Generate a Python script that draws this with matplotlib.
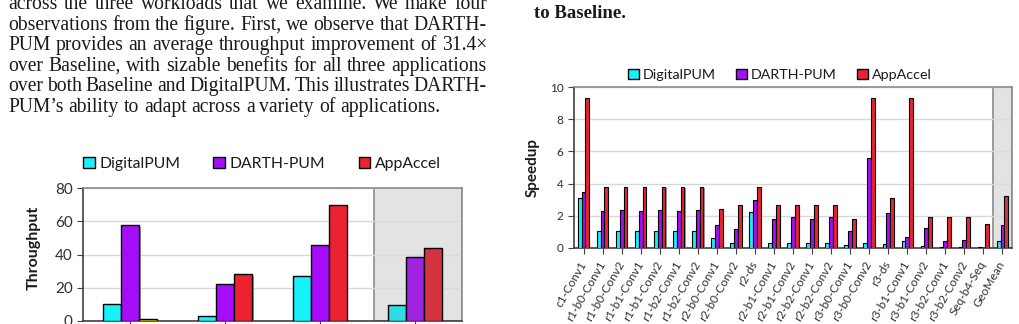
import numpy as np
import matplotlib
matplotlib.use("Agg")
import matplotlib.pyplot as plt
from matplotlib.patches import Patch
import matplotlib.patheffects as pe

W, H = 1019, 324

## ------------------
## Data
## ------------------
body_lines = [
    "across the three workloads that we examine. We make four",
    "observations from the figure. First, we observe that DARTH-",
    "PUM provides an average throughput improvement of 31.4\u00d7",
    "over Baseline, with sizable benefits for all three applications",
    "over both Baseline and DigitalPUM. This illustrates DARTH-",
    "PUM\u2019s ability to adapt across a variety of applications.",
]
caption_tail = "to Baseline."

series = ["DigitalPUM", "DARTH-PUM", "AppAccel"]

# left chart: throughput (x labels are cropped off in the reference)
apps = ["", "", "", ""]
thr_digital = [10.5, 3.0, 27.0, 9.8]
thr_darth = [57.5, 22.0, 45.5, 38.5]
thr_appaccel = [1.5, 28.0, 69.5, 44.0]

# right chart: per-layer speedup
layers = ["c1-Conv1", "r1-b0-Conv1", "r1-b0-Conv2", "r1-b1-Conv1", "r1-b1-Conv2",
          "r1-b2-Conv1", "r1-b2-Conv2", "r2-b0-Conv1", "r2-b0-Conv2", "r2-ds",
          "r2-b1-Conv1", "r2-b1-Conv2", "r2-b2-Conv1", "r2-b2-Conv2", "r3-b0-Conv1",
          "r3-b0-Conv2", "r3-ds", "r3-b1-Conv1", "r3-b1-Conv2", "r3-b2-Conv1",
          "r3-b2-Conv2", "Seq-b4-Seq", "GeoMean"]
spd_digital = [3.12, 1.04, 1.04, 1.04, 1.04, 1.04, 1.04, 0.60, 0.31, 2.25, 0.31, 0.31,
               0.31, 0.31, 0.21, 0.33, 0.27, 0.42, 0.10, 0.08, 0.08, 0.04, 0.44]
spd_darth = [3.46, 2.27, 2.35, 2.27, 2.35, 2.27, 2.35, 1.42, 1.15, 2.98, 1.83, 1.90,
             1.83, 1.90, 1.04, 5.58, 2.15, 0.69, 1.27, 0.44, 0.48, 0.02, 1.40]
spd_appaccel = [9.3, 3.77, 3.77, 3.77, 3.77, 3.77, 3.77, 2.40, 2.67, 3.77, 2.67, 2.67,
                2.67, 2.67, 1.83, 9.3, 3.08, 9.3, 1.94, 1.94, 1.94, 1.52, 3.25]

## ------------------
## Styles
## ------------------
CYAN, PURPLE, RED, YELLOW = "#17F1FA", "#A60EFB", "#EC2232", "#FFE600"
# muted versions used for the GeoMean group
CYAN_M, PURPLE_M, RED_M = "#2EDCE2", "#A024E0", "#D33440"
SANS = "Lato"
SERIF = "Liberation Serif"

fig = plt.figure(figsize=(W / 100, H / 100), dpi=100)
renderer = fig.canvas.get_renderer()


def px_axes(left, top, right, bottom):
    return fig.add_axes([left / W, 1 - bottom / H, (right - left) / W, (bottom - top) / H])


def fit_size(text, target_w, family, weight="normal"):
    t = fig.text(0, 0, text, fontsize=10, family=family, weight=weight)
    w = t.get_window_extent(renderer).width
    t.remove()
    return 10 * target_w / w


## ------------------
## Body text (justified)
## ------------------
x_left, x_right = 8, 487
fs = fit_size(body_lines[2], 476, SERIF)
base0, lead = 9, 20.6
space_w = fs * 100 / 72 * 0.25
for i, line in enumerate(body_lines):
    words = line.split(" ")
    y = 1 - (base0 + i * lead) / H
    objs = [fig.text(0, y, w, fontsize=fs, family=SERIF, va="baseline", color="#1a1a1a") for w in words]
    widths = [o.get_window_extent(renderer).width for o in objs]
    if i < len(body_lines) - 1:
        gap = (x_right - x_left - sum(widths)) / (len(words) - 1)
    else:
        gap = space_w
    x = x_left
    for o, wd in zip(objs, widths):
        o.set_x(x / W)
        x += wd + gap

cfs = fit_size(caption_tail, 92, SERIF, "bold")
fig.text(534 / W, 1 - 18 / H, caption_tail, fontsize=cfs, family=SERIF, weight="bold",
         va="baseline", color="#1a1a1a")


## ------------------
## Chart helpers
## ------------------
def style_axes(ax, fsize):
    for side in ["top", "right"]:
        ax.spines[side].set_color("#8C8C8C")
    for side in ["left", "bottom"]:
        ax.spines[side].set_color("#404040")
    for s in ax.spines.values():
        s.set_linewidth(1.2)
    ax.grid(axis="y", color="#D9D9D9", lw=1)
    ax.set_axisbelow(True)
    ax.tick_params(axis="both", direction="out", length=4, color="#404040",
                   labelsize=fsize, labelcolor="#303030")
    for lab in ax.get_yticklabels():
        lab.set_family(SANS)


def add_legend(ax, x_px, y_px, fsize, colspace):
    handles = [Patch(facecolor=c, edgecolor="black", lw=1) for c in [CYAN, PURPLE, RED]]
    leg = ax.legend(handles, series, ncol=3, loc="center left",
                    bbox_to_anchor=(x_px / W, 1 - y_px / H), bbox_transform=fig.transFigure,
                    frameon=False, borderaxespad=0, borderpad=0, handlelength=0.75,
                    handleheight=0.75, handletextpad=0.3, columnspacing=colspace,
                    prop={"family": SANS, "size": fsize})
    for t in leg.get_texts():
        t.set_color("#1a1a1a")


def shadowed(bars, off):
    fx = [pe.SimplePatchShadow(offset=(off, -off), shadow_rgbFace="#7F7F7F", alpha=0.8), pe.Normal()]
    for b in bars:
        b.set_path_effects(fx)


## ------------------
## Left chart: throughput
## ------------------
ax1 = px_axes(83, 188, 462, 321)
x = np.arange(len(apps))
bw = 0.19
c_dig = [CYAN] * 3 + [CYAN_M]
c_dar = [PURPLE] * 3 + [PURPLE_M]
c_app = [YELLOW, RED, RED, RED_M]
ax1.axvspan(2.57, 3.5, facecolor="#E3E3E3", edgecolor="#8C8C8C", lw=1.2, zorder=0)
for vals, cols, off in [(thr_digital, c_dig, -bw), (thr_darth, c_dar, 0), (thr_appaccel, c_app, bw)]:
    shadowed(ax1.bar(x + off, vals, bw, color=cols, edgecolor="black", lw=1.0, zorder=3), 1.0)
ax1.set_xlim(-0.5, 3.5)
ax1.set_ylim(0, 80)
ax1.set_yticks([0, 20, 40, 60, 80])
ax1.set_xticks(x)
ax1.set_xticklabels(apps)
style_axes(ax1, 11)
ax1.set_ylabel("Throughput", family=SANS, weight="bold", fontsize=11.5, color="#1a1a1a")
ax1.yaxis.set_label_coords(-0.112, 0.55)
add_legend(ax1, 83, 164, 11.3, 2.1)

## ------------------
## Right chart: speedup per layer
## ------------------
ax2 = px_axes(574, 87, 1012, 248)
x = np.arange(len(layers))
bw = 0.2
n = len(layers)
c_dig = [CYAN] * (n - 1) + [CYAN_M]
c_dar = [PURPLE] * (n - 1) + [PURPLE_M]
c_app = [RED] * (n - 1) + [RED_M]
ax2.axvspan(n - 1.5, n - 0.5, facecolor="#E3E3E3", edgecolor="#8C8C8C", lw=1.2, zorder=0)
for vals, cols, off in [(spd_digital, c_dig, -bw), (spd_darth, c_dar, 0), (spd_appaccel, c_app, bw)]:
    shadowed(ax2.bar(x + off, vals, bw, color=cols, edgecolor="black", lw=0.8, zorder=3), 0.8)
ax2.set_xlim(-0.5, n - 0.5)
ax2.set_ylim(0, 10)
ax2.set_yticks([0, 2, 4, 6, 8, 10])
ax2.set_xticks(x)
ax2.set_xticklabels(layers, rotation=60, ha="right", va="center", rotation_mode="anchor",
                    family=SANS, fontsize=7.6)
style_axes(ax2, 8.5)
ax2.tick_params(axis="x", pad=6)
ax2.set_ylabel("Speedup", family=SANS, weight="bold", fontsize=11, color="#1a1a1a")
ax2.yaxis.set_label_coords(-0.078, 0.5)
add_legend(ax2, 628, 75, 10.3, 1.4)

fig.savefig("out.png", dpi=100)
